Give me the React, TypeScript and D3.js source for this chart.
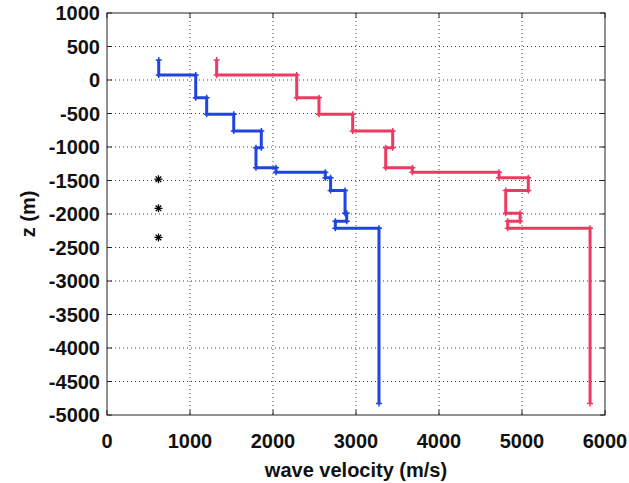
import React from "react";
import * as d3 from "d3";

// Layer tops (m) and velocities (m/s)
const layerTops = [300, 75, -264, -513, -761, -1010, -1310, -1378, -1458, -1650, -1990, -2110, -2214];
const modelBottom = -4830;
const vsValues = [623, 1069, 1201, 1527, 1859, 1795, 2036, 2630, 2694, 2868, 2888, 2751, 3277];
const vpValues = [1321, 2286, 2554, 2960, 3442, 3358, 3679, 4723, 5076, 4804, 4977, 4828, 5820];
const starVelocities = [620, 620, 620];
const starDepths = [-1480, -1915, -2350];
const xTicks = [0, 1000, 2000, 3000, 4000, 5000, 6000];
const yTicks = [1000, 500, 0, -500, -1000, -1500, -2000, -2500, -3000, -3500, -4000, -4500, -5000];

const W = 629;
const H = 483;
const left = 107;
const right = 605;
const top = 13;
const bottom = 415;

function stepPoints(vals: number[]): [number, number][] {
  const pts: [number, number][] = [];
  vals.forEach((v, i) => {
    const z0 = layerTops[i];
    const z1 = i + 1 < layerTops.length ? layerTops[i + 1] : modelBottom;
    pts.push([v, z0]);
    pts.push([v, z1]);
  });
  return pts;
}

export default function App() {
  const x = d3.scaleLinear().domain([0, 6000]).range([left, right]);
  const y = d3.scaleLinear().domain([-5000, 1000]).range([bottom, top]);
  const line = d3
    .line<[number, number]>()
    .x((d) => x(d[0]))
    .y((d) => y(d[1]));

  const series = [
    { vals: vsValues, color: "#1f44e0" },
    { vals: vpValues, color: "#ee3a62" },
  ];
  const font = "'Liberation Sans', Arial, sans-serif";

  return (
    <svg
      width={W}
      height={H}
      style={{ position: "fixed", left: 0, top: 0, background: "#fff" }}
    >
      <rect x={0} y={0} width={W} height={H} fill="#fff" />
      {/* grid */}
      {xTicks.slice(1, -1).map((t) => (
        <line
          key={"gx" + t}
          x1={x(t)}
          x2={x(t)}
          y1={top}
          y2={bottom}
          stroke="#000"
          strokeWidth={1}
          strokeDasharray="1,3"
          opacity={0.75}
        />
      ))}
      {yTicks.slice(1, -1).map((t) => (
        <line
          key={"gy" + t}
          x1={left}
          x2={right}
          y1={y(t)}
          y2={y(t)}
          stroke="#000"
          strokeWidth={1}
          strokeDasharray="1,3"
          opacity={0.75}
        />
      ))}
      {/* curves */}
      {series.map((s, i) => {
        const pts = stepPoints(s.vals);
        return (
          <g key={i}>
            <path d={line(pts) || ""} fill="none" stroke={s.color} strokeWidth={3} strokeLinejoin="miter" />
            {pts.map((p, j) => (
              <path
                key={j}
                d={`M${x(p[0]) - 3},${y(p[1])}h6M${x(p[0])},${y(p[1]) - 3}v6`}
                stroke={s.color}
                strokeWidth={1.5}
              />
            ))}
          </g>
        );
      })}
      {/* stars */}
      {starDepths.map((z, i) => {
        const cx = x(starVelocities[i]);
        const cy = y(z);
        const r = 4;
        const d2 = r * 0.7;
        return (
          <path
            key={"s" + i}
            d={`M${cx - r},${cy}h${2 * r}M${cx},${cy - r}v${2 * r}M${cx - d2},${cy - d2}L${cx + d2},${cy + d2}M${cx - d2},${cy + d2}L${cx + d2},${cy - d2}`}
            stroke="#000"
            strokeWidth={1.3}
          />
        );
      })}
      {/* box */}
      <rect x={left} y={top} width={right - left} height={bottom - top} fill="none" stroke="#222" strokeWidth={1} />
      {/* ticks */}
      {xTicks.map((t) => (
        <g key={"tx" + t}>
          <line x1={x(t)} x2={x(t)} y1={bottom} y2={bottom - 5} stroke="#222" />
          <line x1={x(t)} x2={x(t)} y1={top} y2={top + 5} stroke="#222" />
          <text
            x={x(t)}
            y={bottom + 33}
            textAnchor="middle"
            fontFamily={font}
            fontWeight="bold"
            fontSize={20}
            fill="#111"
          >
            {t}
          </text>
        </g>
      ))}
      {yTicks.map((t) => (
        <g key={"ty" + t}>
          <line x1={left} x2={left + 5} y1={y(t)} y2={y(t)} stroke="#222" />
          <line x1={right} x2={right - 5} y1={y(t)} y2={y(t)} stroke="#222" />
          <text
            x={left - 7}
            y={y(t)}
            dy="0.36em"
            textAnchor="end"
            fontFamily={font}
            fontWeight="bold"
            fontSize={20}
            fill="#111"
          >
            {t}
          </text>
        </g>
      ))}
      <text
        x={(left + right) / 2}
        y={477}
        textAnchor="middle"
        fontFamily={font}
        fontWeight="bold"
        fontSize={20}
        fill="#111"
      >
        wave velocity (m/s)
      </text>
      <text
        transform={`translate(35,${(top + bottom) / 2}) rotate(-90)`}
        textAnchor="middle"
        fontFamily={font}
        fontWeight="bold"
        fontSize={20}
        fill="#111"
      >
        z (m)
      </text>
    </svg>
  );
}
